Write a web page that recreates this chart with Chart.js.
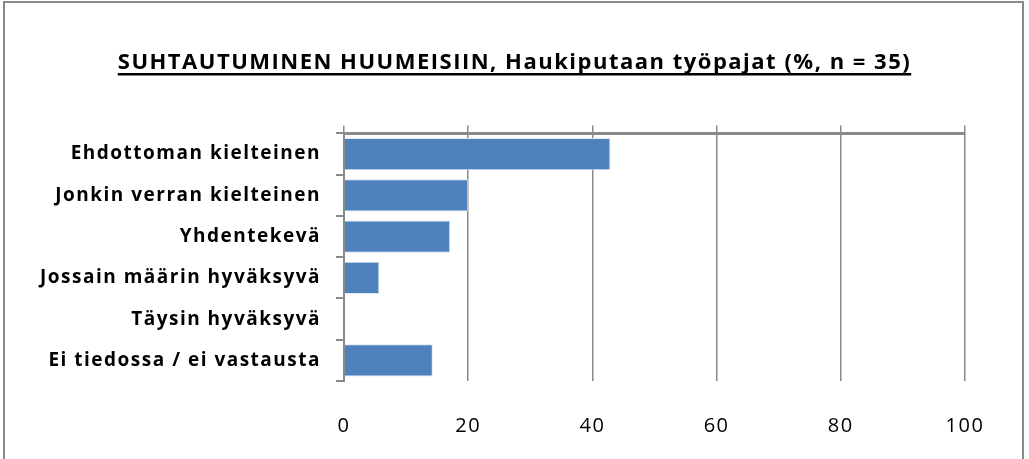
<!DOCTYPE html>
<html>
<head>
<meta charset="utf-8">
<script src="https://cdn.jsdelivr.net/npm/chart.js@4"></script>
<style>
  body { margin: 0; background: #fff; }
  #wrap { position: relative; width: 1029px; height: 459px; overflow: hidden; }
  #frame {
    position: absolute; left: 3px; top: 1px; width: 1017px; height: 470px;
    border: 2px solid #8a8a8a; pointer-events: none;
  }
</style>
</head>
<body>
<div id="wrap">
  <canvas id="chart" width="1029" height="459"></canvas>
  <div id="frame"></div>
</div>
<script>
/* ===============================
   Data
================================ */
const chartTitle = "SUHTAUTUMINEN HUUMEISIIN, Haukiputaan työpajat (%, n = 35)";
const categories = [
  "Ehdottoman kielteinen",
  "Jonkin verran kielteinen",
  "Yhdentekevä",
  "Jossain määrin hyväksyvä",
  "Täysin hyväksyvä",
  "Ei tiedossa / ei vastausta"
];
const percents = [42.9, 20.0, 17.1, 5.7, 0, 14.3];
const axisMin = 0;
const axisMax = 100;
const axisStep = 20;

/* ===============================
   Plugins
================================ */
// wider letter spacing, like the original text
const spacing = {
  id: "spacing",
  afterInit(chart) { chart.ctx.letterSpacing = "1.5px"; },
  beforeUpdate(chart) { chart.ctx.letterSpacing = "1.5px"; },
  beforeDraw(chart) { chart.ctx.letterSpacing = "1.5px"; }
};

const titleUnderline = {
  id: "titleUnderline",
  afterDraw(chart) {
    const tb = chart.titleBlock;
    if (!tb) return;
    const ctx = chart.ctx;
    const font = chart.options.plugins.title.font;
    ctx.save();
    ctx.font = `${font.weight} ${font.size}px ${font.family}`;
    const w = ctx.measureText(chartTitle).width;
    const cx = (tb.left + tb.right) / 2;
    const y = tb.top + tb.options.padding.top + font.size * 1.2 / 2 + font.size * 0.5;
    ctx.strokeStyle = "#000";
    ctx.lineWidth = 2.5;
    ctx.beginPath();
    ctx.moveTo(cx - w / 2, y);
    ctx.lineTo(cx + w / 2, y);
    ctx.stroke();
    ctx.restore();
  }
};

/* ===============================
   Chart
================================ */
const axisGrey = "#8a8a8a";
const fontFamily = "'Open Sans', sans-serif";

new Chart(document.getElementById("chart"), {
  type: "bar",
  data: {
    labels: categories,
    datasets: [{
      data: percents,
      backgroundColor: "#4f81bd",
      borderColor: "#dce6f2",
      borderWidth: 1,
      barPercentage: 0.78,
      categoryPercentage: 1.0,
      xAxisID: "x",
      yAxisID: "y"
    }]
  },
  options: {
    indexAxis: "y",
    responsive: false,
    animation: false,
    layout: { padding: 0 },
    plugins: {
      legend: { display: false },
      tooltip: { enabled: false },
      title: {
        display: true,
        text: chartTitle,
        color: "#000",
        font: { family: fontFamily, size: 22, weight: "bold" },
        padding: { top: 50, bottom: 49 }
      }
    },
    scales: {
      x: {
        position: "bottom",
        min: axisMin,
        max: axisMax,
        border: { display: false },
        grid: { color: axisGrey, lineWidth: 1.5, drawTicks: false },
        ticks: {
          stepSize: axisStep,
          padding: 33,
          color: "#000",
          font: { family: fontFamily, size: 20 }
        },
        afterFit(scale) { scale.height = 78; }
      },
      xTop: {
        position: "top",
        min: axisMin,
        max: axisMax,
        border: { display: true, color: axisGrey, width: 3 },
        grid: { color: axisGrey, lineWidth: 1.5, drawOnChartArea: false, drawTicks: true, tickLength: 8 },
        ticks: { stepSize: axisStep, display: false },
        afterFit(scale) { scale.height = 8; }
      },
      y: {
        border: { display: true, color: axisGrey, width: 2 },
        grid: { offset: true, drawOnChartArea: false, drawTicks: true, tickLength: 8, color: axisGrey, lineWidth: 2 },
        ticks: {
          padding: 15,
          color: "#000",
          font: { family: fontFamily, size: 19, weight: "bold" }
        },
        afterFit(scale) { scale.width = 344; }
      },
      // empty right-hand space, so the title stays centred on the whole frame
      yRight: {
        type: "category",
        position: "right",
        border: { display: false },
        grid: { display: false },
        ticks: { display: false },
        afterFit(scale) { scale.width = 64; }
      }
    }
  },
  plugins: [spacing, titleUnderline]
});
</script>
</body>
</html>
